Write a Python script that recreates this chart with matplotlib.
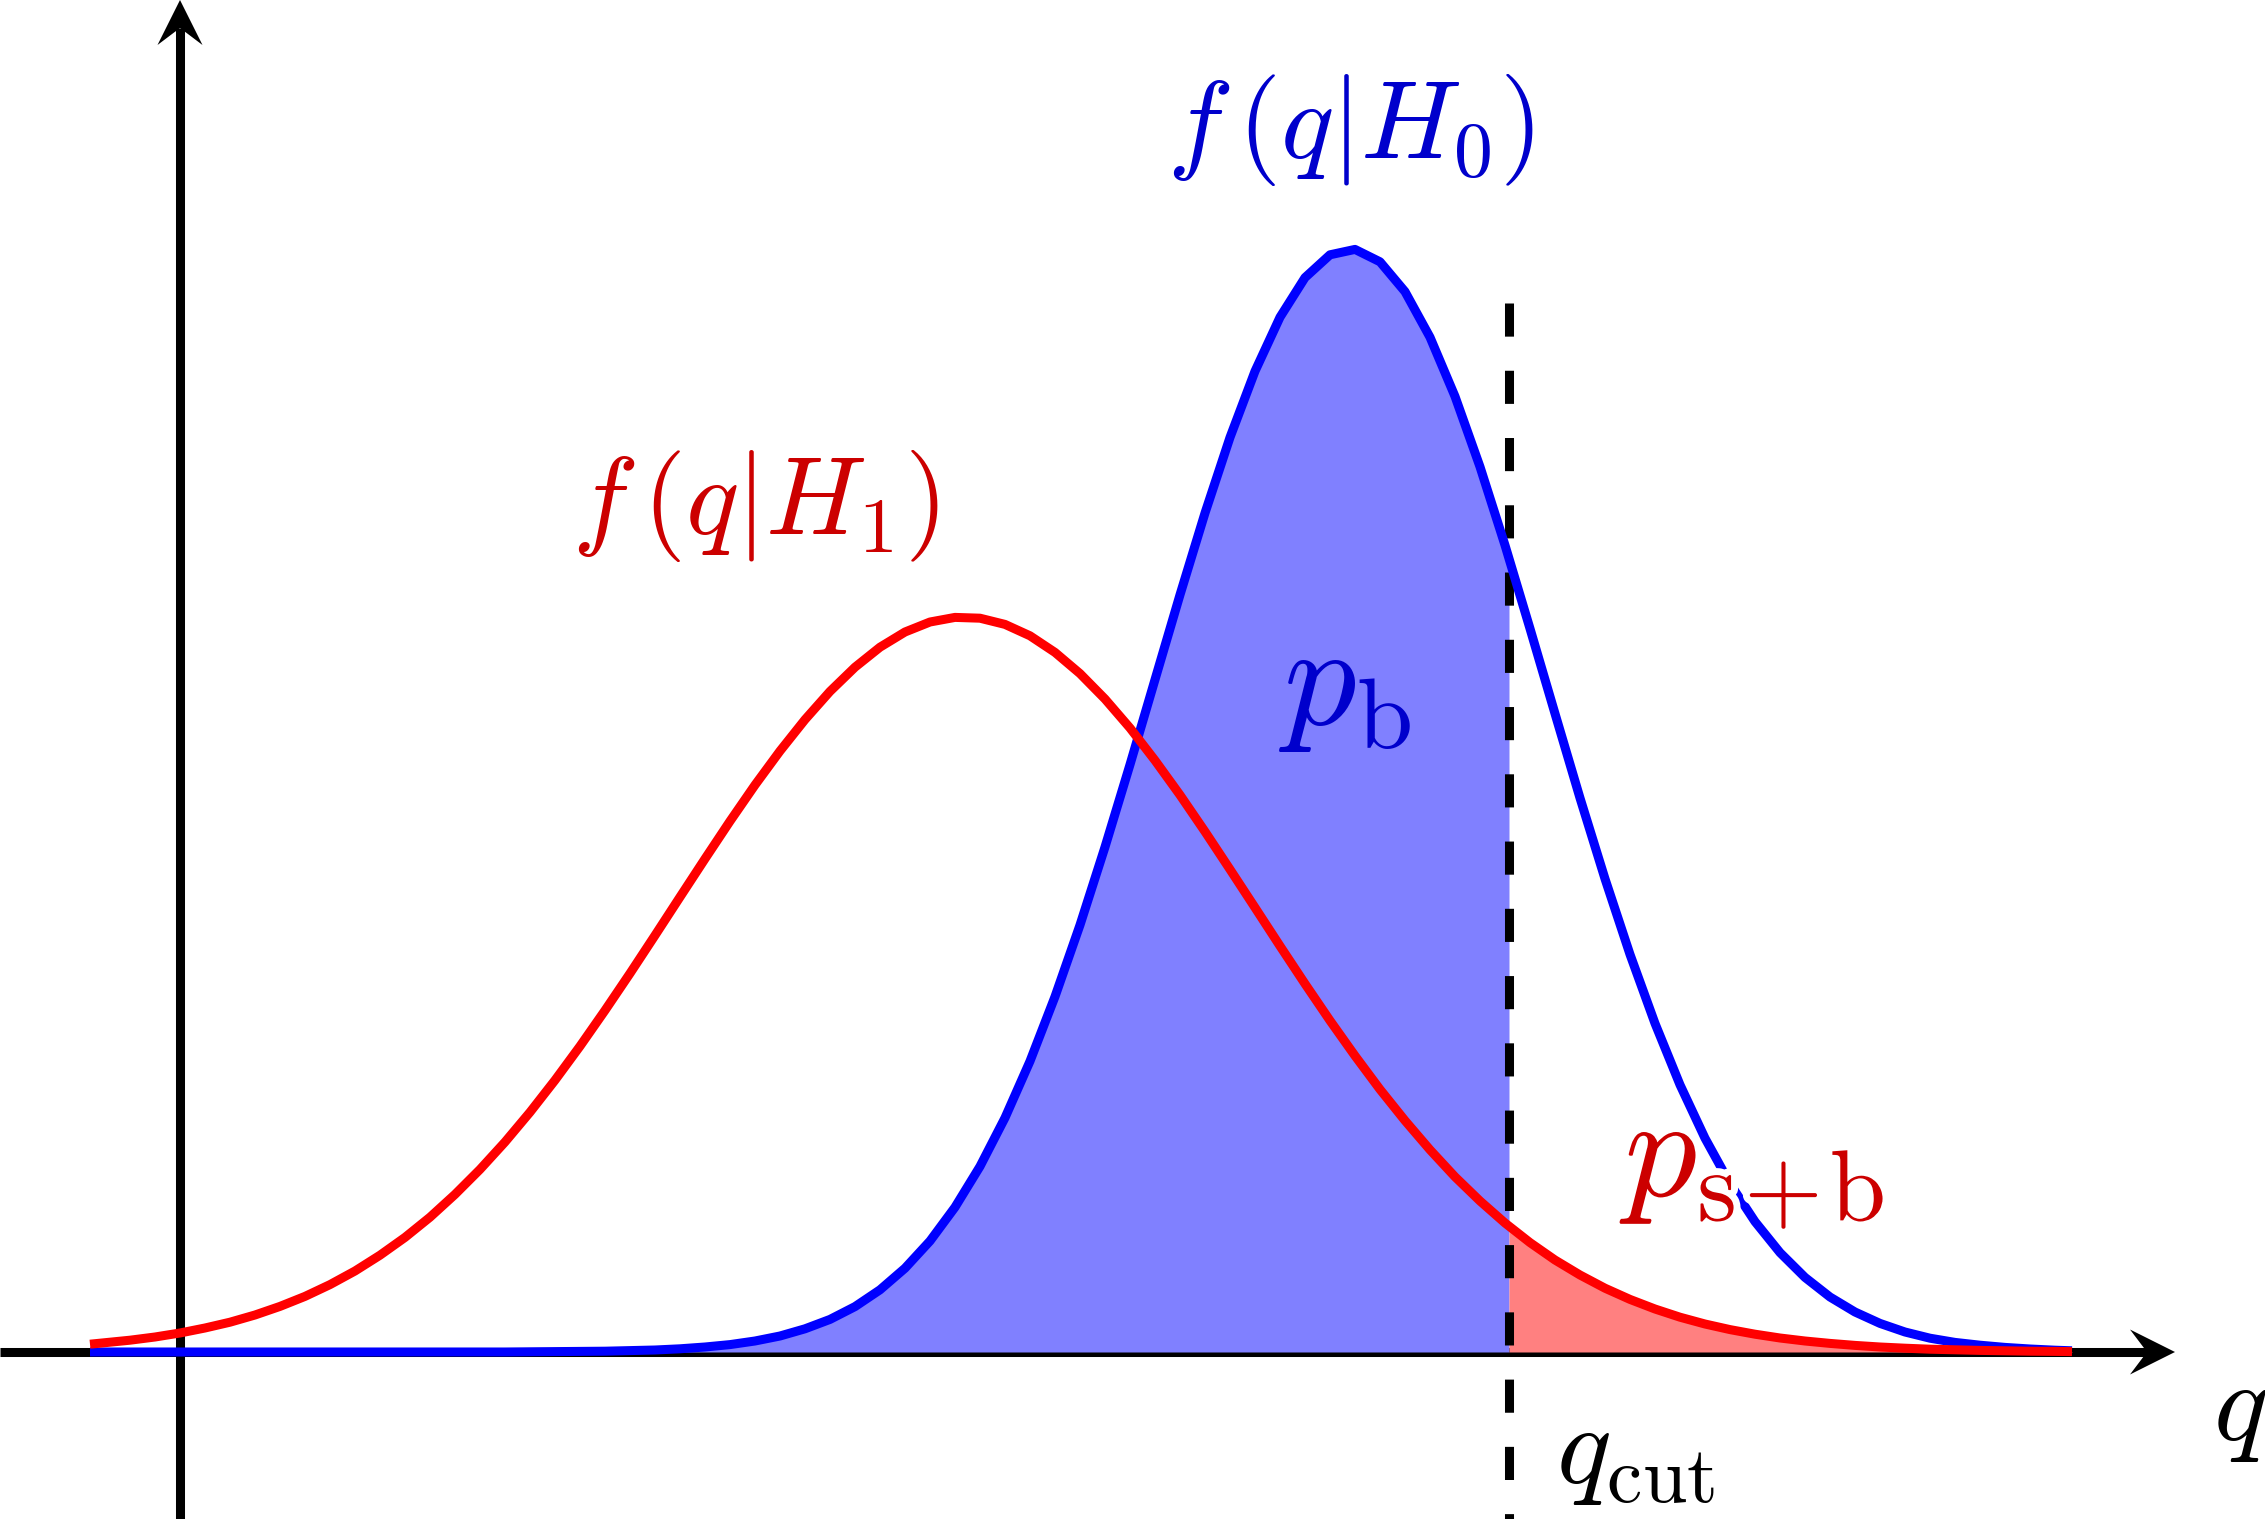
import numpy as np
import matplotlib
matplotlib.use("Agg")
import matplotlib.pyplot as plt
from matplotlib.patches import Polygon
import matplotlib.patheffects as pe

plt.rcParams['mathtext.fontset'] = 'cm'

# curve samples (q and f in the same length unit)
q_pts = [-0.45, -0.25, -0.125, 0.0, 0.125, 0.25, 0.375, 0.5,
         0.625, 0.75, 0.875, 1.0, 1.125, 1.25, 1.375, 1.5,
         1.625, 1.75, 1.875, 2.0, 2.125, 2.25, 2.375, 2.5,
         2.625, 2.75, 2.875, 3.0, 3.125, 3.25, 3.375, 3.5,
         3.625, 3.75, 3.875, 4.0, 4.125, 4.25, 4.375, 4.5,
         4.625, 4.75, 4.875, 5.0, 5.125, 5.25, 5.375, 5.5,
         5.625, 5.75, 5.875, 6.0, 6.125, 6.25, 6.375, 6.5,
         6.625, 6.75, 6.875, 7.0, 7.125, 7.25, 7.375, 7.5,
         7.625, 7.75, 7.875, 8.0, 8.125, 8.25, 8.375, 8.5,
         8.625, 8.75, 8.875, 9.0, 9.125, 9.25, 9.375, 9.46]
f_h0 = [0.0, 0.0, 0.0, 0.0, 0.0, 0.0, 0.0, 0.0,
        0.0, 0.0, 0.0, 0.0, 0.0, 0.0, 0.0, 0.0,
        0.0, 0.001, 0.002, 0.003, 0.004, 0.007, 0.010, 0.016,
        0.025, 0.037, 0.055, 0.080, 0.116, 0.163, 0.227, 0.311,
        0.419, 0.555, 0.724, 0.928, 1.171, 1.454, 1.777, 2.135,
        2.525, 2.937, 3.362, 3.786, 4.195, 4.573, 4.904, 5.174,
        5.372, 5.486, 5.513, 5.451, 5.302, 5.074, 4.778, 4.426,
        4.034, 3.617, 3.192, 2.770, 2.366, 1.988, 1.643, 1.336,
        1.069, 0.842, 0.652, 0.497, 0.373, 0.275, 0.200, 0.143,
        0.100, 0.069, 0.048, 0.034, 0.023, 0.015, 0.009, 0.006]
f_h1 = [0.039, 0.059, 0.075, 0.095, 0.120, 0.149, 0.185, 0.228,
        0.278, 0.337, 0.405, 0.484, 0.573, 0.674, 0.788, 0.913,
        1.050, 1.199, 1.359, 1.529, 1.708, 1.893, 2.083, 2.275,
        2.466, 2.654, 2.835, 3.005, 3.162, 3.303, 3.424, 3.524,
        3.600, 3.650, 3.673, 3.669, 3.638, 3.581, 3.498, 3.392,
        3.265, 3.120, 2.958, 2.785, 2.602, 2.413, 2.222, 2.030,
        1.841, 1.657, 1.481, 1.313, 1.157, 1.011, 0.876, 0.755,
        0.645, 0.547, 0.460, 0.385, 0.319, 0.263, 0.215, 0.174,
        0.140, 0.112, 0.089, 0.070, 0.055, 0.043, 0.033, 0.025,
        0.019, 0.014, 0.011, 0.008, 0.006, 0.004, 0.003, 0.002]
q_cut = 6.645

# frame of the drawing
x_min, x_max = -0.9, 10.425
y_min, y_max = -0.835, 6.76
x_tip = 9.975
y_tip = 6.76
cut_top = 5.245

lw = 6.5
head_len, head_w, head_in = 0.225, 0.1125, 0.14

fig = plt.figure(figsize=(22.65, 15.19), dpi=100)
ax = fig.add_axes([0, 0, 1, 1])
ax.set_xlim(x_min, x_max)
ax.set_ylim(y_min, y_max)
ax.axis('off')

# axes with arrow heads
ax.plot([x_min, x_tip - head_in], [0, 0], color='black', lw=lw, solid_capstyle='butt', zorder=1)
ax.plot([0, 0], [y_min, y_tip - head_in], color='black', lw=lw, solid_capstyle='butt', zorder=1)
ax.add_patch(Polygon([[x_tip, 0], [x_tip - head_len, head_w], [x_tip - head_in, 0],
                      [x_tip - head_len, -head_w]], closed=True, color='black', lw=0, zorder=1))
ax.add_patch(Polygon([[0, y_tip], [head_w, y_tip - head_len], [0, y_tip - head_in],
                      [-head_w, y_tip - head_len]], closed=True, color='black', lw=0, zorder=1))

q = np.array(q_pts)
h0 = np.array(f_h0)
h1 = np.array(f_h1)

# shaded tails on either side of the cut
left = q < q_cut
qb = np.concatenate([q[left], [q_cut]])
fb = np.concatenate([h0[left], [np.interp(q_cut, q, h0)]])
ax.fill_between(qb, 0, fb, color='#8080ff', lw=0, zorder=2)
right = q > q_cut
qr = np.concatenate([[q_cut], q[right]])
fr = np.concatenate([[np.interp(q_cut, q, h1)], h1[right]])
ax.fill_between(qr, 0, fr, color='#ff8080', lw=0, zorder=2)

# cut line
ax.plot([q_cut, q_cut], [cut_top, y_min], color='black', lw=lw,
        linestyle=(0, (3.67, 3.78)), dash_capstyle='butt', zorder=3)

ax.plot(q, h0, color='#0000ff', lw=lw, solid_capstyle='butt', solid_joinstyle='round', zorder=4)
ax.plot(q, h1, color='#ff0000', lw=lw, solid_capstyle='butt', solid_joinstyle='round', zorder=5)

# labels
ax.text(5.85, 5.97, r'$f\,(q|H_0)$', color='#0000cc', fontsize=80, ha='center', va='baseline', zorder=6)
ax.text(2.875, 4.09, r'$f\,(q|H_1)$', color='#cc0000', fontsize=80, ha='center', va='baseline', zorder=6)
ax.text(5.825, 3.14, r'$p_{\mathrm{b}}$', color='#0000cc', fontsize=104, ha='center', va='baseline', zorder=6)
ax.text(7.885, 0.775, r'$p_{\mathrm{s}\hspace{0.08}{+}\hspace{0.08}\mathrm{b}}$', color='#cc0000',
        fontsize=104, ha='center', va='baseline', zorder=6,
        path_effects=[pe.withStroke(linewidth=10, foreground='white')])
ax.text(7.275, -0.655, r'$q_{\mathrm{cut}}$', color='black', fontsize=82, ha='center', va='baseline', zorder=6)
ax.text(10.3, -0.44, r'$q$', color='black', fontsize=82, ha='center', va='baseline', zorder=6)

fig.savefig('out.png', dpi=100, facecolor='white')
